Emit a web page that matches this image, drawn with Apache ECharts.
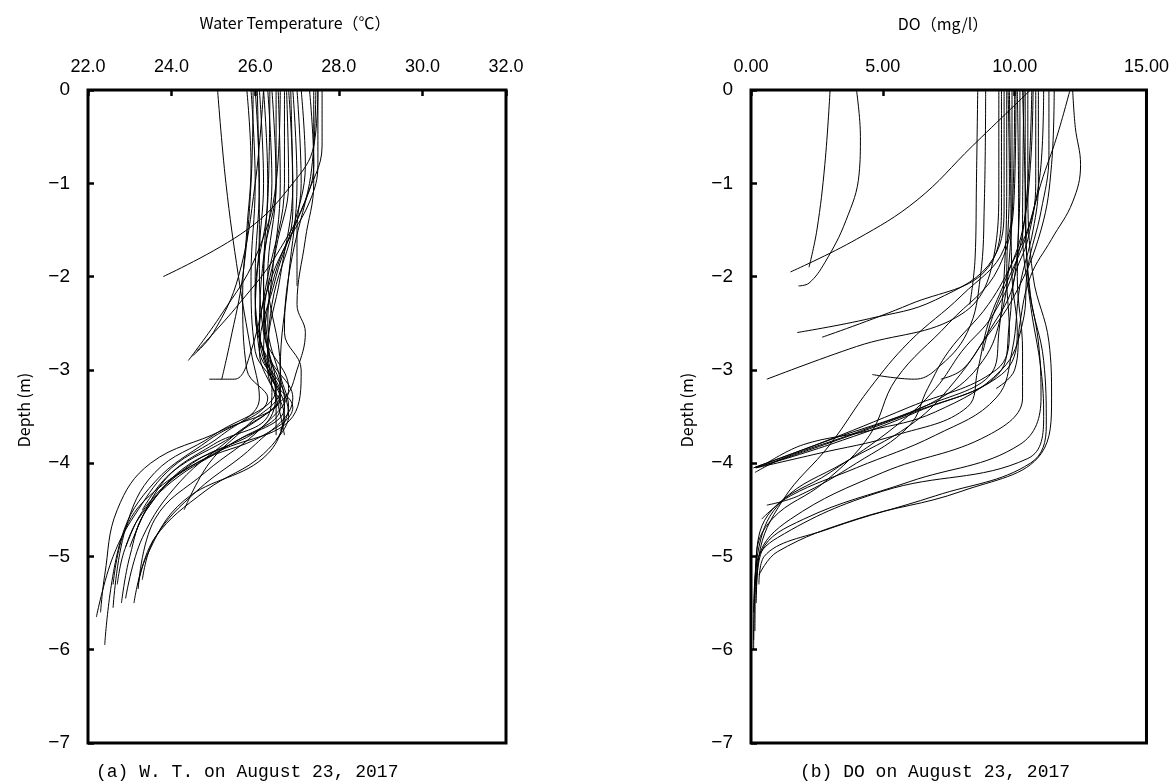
<!DOCTYPE html>
<html>
<head>
<meta charset="utf-8">
<script src="https://cdn.jsdelivr.net/npm/echarts@6/dist/echarts.min.js"></script>
<style>
  html, body { margin: 0; padding: 0; background: #fff; }
  #chart { width: 1172px; height: 784px; }
</style>
</head>
<body>
<div id="chart"></div>
<script>
// water temperature profiles, [temp (°C), depth (m)]
const wt01 = [[25.1,0],[25.3,-1],[25.6,-2],[25.9,-2.8],[26.1,-3.3],[25.2,-3.7],[24.0,-4.05],[23.2,-4.5],[22.6,-5.0],[22.2,-5.65]]
const wt02 = [[25.8,0],[25.9,-0.8],[25.8,-1.5],[25.7,-2.2],[25.8,-3.0],[26.3,-3.3],[24.9,-3.75],[23.6,-4.2],[22.8,-4.8],[22.4,-5.95]]
const wt03 = [[25.9,0],[26.0,-1],[25.9,-2],[26.0,-2.8],[26.5,-3.2],[25.0,-3.7],[23.6,-4.1],[22.9,-4.7],[22.6,-5.55]]
const wt04 = [[26.0,0],[26.1,-1],[26.0,-2],[26.1,-2.8],[26.6,-3.25],[25.5,-3.7],[24.2,-4.2],[23.3,-4.8],[22.9,-5.45]]
const wt05 = [[26.1,0],[26.2,-1],[26.1,-1.8],[26.2,-2.6],[26.8,-3.2],[26.2,-3.6],[24.8,-4.1],[23.6,-4.6],[23.2,-5.35]]
const wt06 = [[26.2,0],[26.3,-1],[26.2,-2],[26.3,-2.8],[26.9,-3.3],[26.0,-3.8],[24.6,-4.3],[23.6,-4.8],[23.3,-5.25]]
const wt07 = [[26.3,0],[26.4,-1],[26.2,-2],[26.4,-3],[26.7,-3.4],[25.4,-3.8],[24.0,-4.2],[23.2,-4.6],[22.9,-4.9]]
const wt08 = [[26.4,0],[26.5,-1],[26.3,-2],[26.6,-3.0],[26.6,-3.4],[25.6,-3.75],[24.3,-4.05],[23.4,-4.5],[23.1,-4.8]]
const wt09 = [[26.5,0],[26.5,-1],[26.2,-1.8],[26.1,-2.6],[26.6,-3.2],[25.8,-3.6],[24.9,-4.0],[24.3,-4.5]]
const wt10 = [[26.6,0],[26.5,-1],[26.0,-1.8],[25.2,-2.4],[24.4,-2.9]]
const wt11 = [[26.7,0],[26.7,-1],[26.3,-2],[25.9,-2.8],[25.5,-3.1],[24.9,-3.1]]
const wt12 = [[26.8,0],[26.9,-1],[26.6,-2],[26.3,-2.8],[26.5,-3.3],[26.5,-3.7]]
const wt13 = [[26.9,0],[27.0,-1],[26.8,-2],[26.6,-3.0],[26.8,-3.4],[26.6,-3.65]]
const wt14 = [[27.0,0],[27.1,-1],[27.0,-1.5],[27.0,-2.1]]
const wt15 = [[27.5,0],[27.4,-0.6],[26.9,-1.0],[25.8,-1.5],[23.8,-2.0]]
const wt16 = [[27.3,0],[27.4,-0.8],[27.0,-1.4],[26.4,-2.0],[26.1,-2.6],[26.4,-3.1],[26.9,-3.4],[26.2,-3.7],[24.6,-4.0],[23.5,-4.4],[22.9,-4.9],[22.7,-5.3]]
const wt17 = [[27.5,0],[27.5,-0.8],[27.3,-1.2],[26.6,-1.8],[26.3,-2.5],[26.6,-3.1],[26.8,-3.5],[26.5,-3.75]]
const wt18 = [[27.6,0],[27.6,-0.6],[27.2,-1.2],[26.8,-2.0],[26.7,-2.6],[27.1,-3.0],[26.9,-3.5],[25.0,-3.9],[23.6,-4.3],[22.9,-4.7],[22.6,-5.3]]
const wt19 = [[26.2,0],[26.0,-1],[25.6,-2],[25.0,-2.6],[24.5,-2.85]]
const wt20 = [[25.95,0],[25.9,-1],[25.7,-2],[25.4,-2.7],[25.2,-3.1]]
const wt21 = [[26.35,0],[26.3,-1.2],[26.0,-2.2],[26.3,-3.0],[26.6,-3.3],[25.2,-3.65],[23.5,-4.0],[22.7,-4.5],[22.4,-5.2],[22.3,-5.6]]
const wt22 = [[26.75,0],[26.8,-1.0],[26.5,-1.7],[26.2,-2.5],[26.5,-3.2],[26.2,-3.6],[24.5,-4.0],[23.4,-4.5],[23.0,-5.0],[22.8,-5.5]]
const wt23 = [[27.1,0],[27.2,-0.8],[26.9,-1.5],[26.4,-2.3],[26.3,-3.0],[26.7,-3.5],[26.2,-3.9],[24.8,-4.3],[23.6,-4.8],[23.2,-5.3]]
const wt24 = [[27.4,0],[27.4,-1.0],[27.2,-1.6],[27.0,-2.3],[27.2,-2.6],[27.0,-3.0],[26.7,-3.3],[25.5,-3.7],[24.0,-4.1],[23.3,-4.5]]
const wt25 = [[26.05,0],[26.1,-1.5],[26.0,-2.4],[26.4,-3.2],[26.3,-3.5],[25.0,-3.8],[23.8,-4.2],[23.0,-4.9]]
const wt26 = [[26.55,0],[26.6,-1.0],[26.4,-2.0],[26.2,-2.8],[26.7,-3.3],[26.3,-3.9],[24.3,-4.4],[23.4,-5.0],[23.1,-5.5]]
const wt27 = [[27.45,0],[27.3,-1.0],[26.6,-1.7],[25.6,-2.3],[24.6,-2.8]]
const wt28 = [[26.85,0],[26.9,-1.3],[26.5,-2.0],[26.1,-2.8],[26.5,-3.3],[26.7,-3.7]]

// dissolved oxygen profiles, [DO (mg/l), depth (m)]
const do01 = [[3.0,0],[2.8,-0.8],[2.5,-1.5],[2.2,-1.9]]
const do02 = [[4.0,0],[4.15,-0.5],[4.1,-0.9],[3.6,-1.4],[2.8,-1.85],[2.2,-2.07],[1.8,-2.1]]
const do03 = [[10.6,0],[8.4,-0.6],[6.3,-1.18],[4.0,-1.6],[1.5,-1.95]]
const do04 = [[8.6,0],[8.55,-1],[8.5,-1.8],[8.3,-2.3]]
const do05 = [[8.9,0],[8.85,-1.2],[8.7,-2.0],[8.2,-2.6],[7.0,-3.0],[6.2,-3.1],[4.6,-3.05]]
const do06 = [[9.4,0],[9.4,-1],[9.2,-1.8],[8.0,-2.4],[4.0,-2.75],[0.6,-3.1]]
const do07 = [[9.5,0],[9.5,-1.2],[9.0,-1.9],[6.0,-2.3],[2.7,-2.65]]
const do08 = [[9.6,0],[9.6,-1.2],[9.2,-1.8],[7.0,-2.25],[4.5,-2.45],[1.75,-2.6]]
const do09 = [[9.7,0],[9.7,-1],[9.6,-2],[9.4,-2.6],[9.2,-3.0],[6.5,-3.4],[3.0,-3.75],[0.1,-4.05]]
const do10 = [[9.75,0],[9.8,-1],[9.7,-2],[9.8,-2.6],[9.3,-3.0],[6.0,-3.4],[2.5,-3.8],[0.1,-4.05]]
const do11 = [[9.8,0],[9.85,-1],[9.9,-2],[10.1,-2.6],[9.5,-3.05],[6.2,-3.45],[2.8,-3.8],[0.2,-4.05]]
const do12 = [[9.9,0],[9.9,-1],[9.8,-1.8],[9.5,-2.4],[8.8,-2.9],[7.2,-3.3],[4.2,-3.65],[1.2,-3.95],[0.15,-4.1]]
const do13 = [[10.0,0],[9.95,-1],[9.6,-1.7],[8.0,-2.2],[6.0,-2.7],[4.5,-3.2],[3.0,-3.8],[1.2,-4.4],[0.3,-5.0],[0.2,-5.5]]
const do14 = [[10.05,0],[10.0,-1],[9.4,-1.9],[7.5,-2.5],[5.5,-3.1],[4.5,-3.7],[2.8,-4.2],[0.8,-4.6],[0.2,-5.0],[0.15,-5.8]]
const do15 = [[10.1,0],[10.15,-1.2],[10.0,-2.0],[9.0,-2.6],[7.5,-3.2],[6.0,-3.6],[3.5,-4.0],[1.2,-4.4],[0.3,-4.9],[0.1,-5.6]]
const do16 = [[10.2,0],[10.2,-1],[10.1,-2],[10.3,-2.8],[10.3,-3.3],[9.0,-3.7],[5.0,-4.1],[1.5,-4.6],[0.3,-5.0],[0.2,-5.3]]
const do17 = [[10.3,0],[10.4,-1],[10.5,-2],[10.9,-2.7],[11.0,-3.3],[10.2,-3.8],[6.0,-4.2],[2.0,-4.6],[0.4,-4.95],[0.2,-5.4]]
const do18 = [[10.4,0],[10.4,-1.2],[10.6,-2.2],[11.1,-2.9],[11.2,-3.6],[10.6,-4.0],[7.0,-4.35],[3.0,-4.7],[0.5,-5.0],[0.3,-5.3]]
const do19 = [[10.5,0],[10.5,-1],[10.7,-2],[11.3,-2.7],[11.4,-3.3],[11.0,-3.9],[8.0,-4.3],[4.0,-4.6],[1.0,-4.95],[0.3,-5.2]]
const do20 = [[10.65,0],[10.5,-1],[10.1,-1.8],[9.2,-2.4],[8.0,-2.8],[7.0,-3.2],[5.5,-3.6],[3.0,-4.1],[0.8,-4.5],[0.2,-5.0],[0.1,-6.0]]
const do21 = [[10.7,0],[10.6,-0.8],[10.3,-1.5],[9.7,-2.0],[9.0,-2.5],[8.6,-3.0],[8.2,-3.4],[5.5,-3.7],[2.5,-3.9],[0.2,-4.05]]
const do22 = [[10.8,0],[10.8,-1],[10.5,-1.6],[10.0,-2.0],[9.8,-2.5],[9.5,-3.0],[6.3,-3.45],[3.0,-3.8],[0.15,-4.05]]
const do23 = [[10.9,0],[10.9,-1],[10.7,-1.5],[10.2,-2.1],[9.9,-2.8],[9.3,-3.3],[7.0,-3.7],[4.0,-4.05],[1.5,-4.35],[0.4,-4.6]]
const do24 = [[11.1,0],[11.0,-0.8],[10.6,-1.4],[10.0,-1.8],[9.0,-2.3],[7.5,-2.8],[6.7,-3.2],[6.0,-3.6],[4.0,-4.0],[1.8,-4.35],[0.6,-4.45]]
const do25 = [[11.3,0],[11.3,-0.7],[11.0,-1.3],[10.5,-1.9],[10.3,-2.5],[9.5,-3.0],[7.0,-3.45],[4.5,-3.65],[2.0,-3.8],[0.6,-4.0]]
const do26 = [[11.5,0],[11.4,-0.8],[11.0,-1.5],[10.0,-2.2],[8.8,-2.7],[8.0,-3.0],[7.2,-3.1]]
const do27 = [[12.2,0],[12.3,-0.4],[12.5,-0.8],[12.2,-1.2],[11.4,-1.6],[10.6,-2.0],[10.2,-2.5],[10.0,-3.0],[9.3,-3.2]]
const do28 = [[12.1,0],[11.6,-0.5],[11.0,-1.0],[10.4,-1.6],[9.8,-2.0],[9.2,-2.4],[8.8,-2.8]]
const do29 = [[10.35,0],[10.3,-1.5],[10.6,-2.3],[11.0,-3.0],[11.1,-3.5],[10.5,-3.95],[5.0,-4.3],[1.0,-4.8],[0.2,-5.1],[0.1,-5.9]]

const wtProfiles = [wt01, wt02, wt03, wt04, wt05, wt06, wt07, wt08, wt09, wt10, wt11, wt12, wt13, wt14,
  wt15, wt16, wt17, wt18, wt19, wt20, wt21, wt22, wt23, wt24, wt25, wt26, wt27, wt28]
const doProfiles = [do01, do02, do03, do04, do05, do06, do07, do08, do09, do10, do11, do12, do13, do14, do15,
  do16, do17, do18, do19, do20, do21, do22, do23, do24, do25, do26, do27, do28, do29]

const chart = echarts.init(document.getElementById('chart'))

const tickFont = { fontFamily: '"Liberation Sans Narrow", "Liberation Sans", Arial, sans-serif', fontSize: 18, color: '#000' }
const depthLabel = v => v === 0 ? '0' : '\u2212' + Math.abs(v)

const makeX = (gi, min, max, interval, digits) => ({
  type: 'value', gridIndex: gi, position: 'top', min, max, interval,
  axisLine: { show: false },
  axisTick: { show: true, inside: true, length: 6, lineStyle: { color: '#000', width: 2.5 } },
  splitLine: { show: false },
  axisLabel: { ...tickFont, margin: 14, formatter: v => v.toFixed(digits) }
})
const makeY = gi => ({
  type: 'value', gridIndex: gi, min: -7, max: 0, interval: 1,
  axisLine: { show: false },
  axisTick: { show: true, inside: true, length: 6, lineStyle: { color: '#000', width: 2.5 } },
  splitLine: { show: false },
  axisLabel: { ...tickFont, fontSize: 19, margin: 18, formatter: depthLabel }
})

const lineSeries = (data, gi) => ({
  type: 'line', xAxisIndex: gi, yAxisIndex: gi, data,
  smooth: 0.4, symbol: 'none', silent: true,
  lineStyle: { color: '#000', width: 1 }
})

const titleFont = '"Noto Sans CJK JP", "Noto Sans", sans-serif'
const capFont = '"Liberation Mono", "DejaVu Sans Mono", monospace'

chart.setOption({
  animation: false,
  backgroundColor: '#fff',
  grid: [
    { left: 88, top: 90, width: 418, height: 653, show: true, borderColor: '#000', borderWidth: 3 },
    { left: 751, top: 90, width: 399, height: 653, show: true, borderColor: '#000', borderWidth: 3 }
  ],
  xAxis: [makeX(0, 22, 32, 2, 1), makeX(1, 0, 15, 5, 2)],
  yAxis: [makeY(0), makeY(1)],
  series: [
    ...wtProfiles.map(p => lineSeries(p, 0)),
    ...doProfiles.map(p => lineSeries(p, 1))
  ],
  graphic: [
    { type: 'text', x: 295, y: 23, style: { text: 'Water Temperature（℃）', fontFamily: titleFont, fontSize: 16, fill: '#000', textAlign: 'center', textVerticalAlign: 'middle' } },
    { type: 'text', x: 943, y: 24, style: { text: 'DO（mg/l）', fontFamily: titleFont, fontSize: 16, fill: '#000', textAlign: 'center', textVerticalAlign: 'middle' } },
    { type: 'text', x: 24, y: 410, rotation: Math.PI / 2, style: { text: 'Depth (m)', fontFamily: titleFont, fontSize: 16, fill: '#000', textAlign: 'center', textVerticalAlign: 'middle' } },
    { type: 'text', x: 687, y: 410, rotation: Math.PI / 2, style: { text: 'Depth (m)', fontFamily: titleFont, fontSize: 16, fill: '#000', textAlign: 'center', textVerticalAlign: 'middle' } },
    { type: 'text', x: 96, y: 772, style: { text: '(a) W. T. on August 23, 2017', fontFamily: capFont, fontSize: 18, fill: '#000', textAlign: 'left', textVerticalAlign: 'middle' } },
    { type: 'text', x: 800, y: 772, style: { text: '(b) DO on August 23, 2017', fontFamily: capFont, fontSize: 18, fill: '#000', textAlign: 'left', textVerticalAlign: 'middle' } }
  ]
})
</script>
</body>
</html>
